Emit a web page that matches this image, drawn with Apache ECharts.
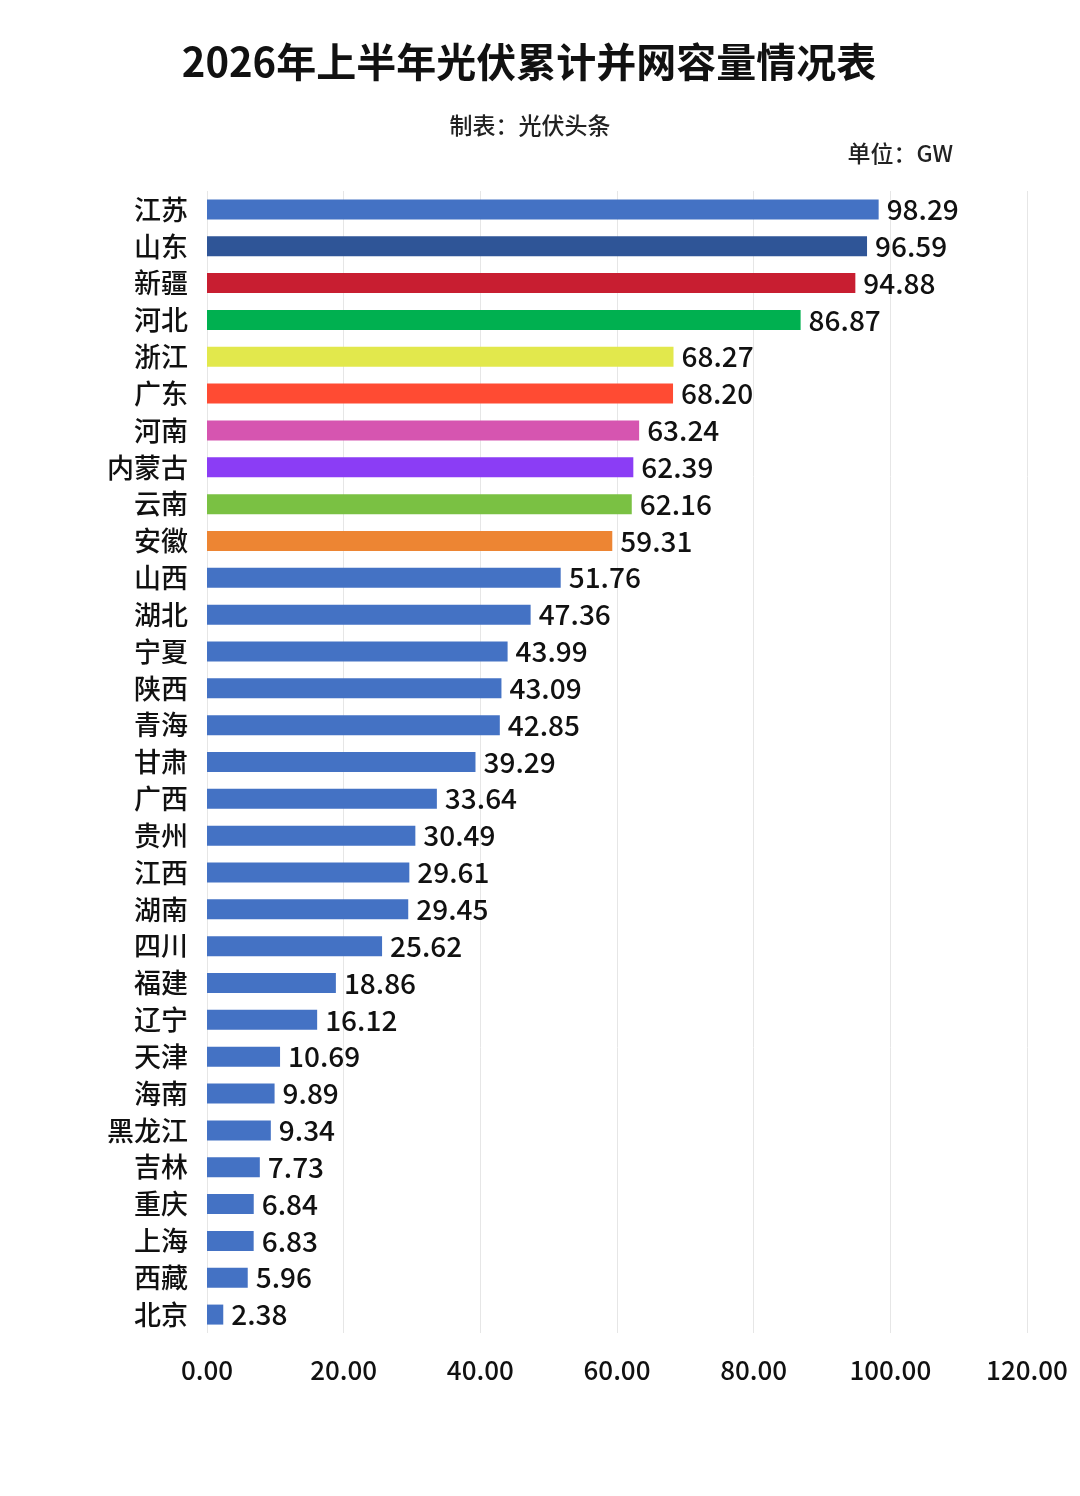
<!DOCTYPE html>
<html>
<head>
<meta charset="utf-8">
<script src="https://cdn.jsdelivr.net/npm/echarts@6/dist/echarts.min.js"></script>
<style>
  html, body { margin: 0; padding: 0; background: #fff; }
  #main { width: 1080px; height: 1496px; }
</style>
</head>
<body>
<div id="main"></div>
<script>
var provinces = ['江苏', '山东', '新疆', '河北', '浙江', '广东', '河南', '内蒙古', '云南', '安徽',
  '山西', '湖北', '宁夏', '陕西', '青海', '甘肃', '广西', '贵州', '江西', '湖南',
  '四川', '福建', '辽宁', '天津', '海南', '黑龙江', '吉林', '重庆', '上海', '西藏', '北京'];
var capacity = [98.29, 96.59, 94.88, 86.87, 68.27, 68.20, 63.24, 62.39, 62.16, 59.31,
  51.76, 47.36, 43.99, 43.09, 42.85, 39.29, 33.64, 30.49, 29.61, 29.45,
  25.62, 18.86, 16.12, 10.69, 9.89, 9.34, 7.73, 6.84, 6.83, 5.96, 2.38];
// 前十名单独配色，其余统一蓝色
var topColors = ['#4472C4', '#2F5597', '#C81E31', '#00B050', '#E2E84C',
  '#FF4B33', '#D655B0', '#8B3DF5', '#7AC143', '#ED8533'];
var baseColor = '#4472C4';

var font = '"Noto Sans CJK SC", "Noto Sans", sans-serif';

var chart = echarts.init(document.getElementById('main'));

var option = {
  backgroundColor: '#fff',
  textStyle: { fontFamily: font },
  title: [{
    text: '2026年上半年光伏累计并网容量情况表',
    left: 524,
    textAlign: 'center',
    top: 37,
    textStyle: { fontSize: 40, fontWeight: 'bold', color: '#111', fontFamily: font }
  }, {
    text: '制表：光伏头条',
    left: 525,
    textAlign: 'center',
    top: 109,
    textStyle: { fontSize: 23, fontWeight: 500, color: '#222', fontFamily: font }
  }, {
    text: '单位：GW',
    right: 122,
    top: 137,
    textStyle: { fontSize: 23, fontWeight: 500, color: '#222', fontFamily: font }
  }],
  grid: {
    left: 207,
    right: 53,
    top: 191,
    bottom: 163,
    containLabel: false
  },
  xAxis: {
    type: 'value',
    min: 0,
    max: 120,
    interval: 20,
    axisLine: { show: false },
    axisTick: { show: false },
    splitLine: { show: true, lineStyle: { color: '#e6e6e6', width: 1 } },
    axisLabel: {
      fontSize: 26,
      fontWeight: 500,
      color: '#111',
      margin: 24,
      formatter: function (v) { return v.toFixed(2); }
    }
  },
  yAxis: {
    type: 'category',
    inverse: true,
    data: provinces,
    axisLine: { show: false },
    axisTick: { show: false },
    axisLabel: { fontSize: 27, fontWeight: 500, color: '#111', margin: 19 }
  },
  series: [{
    type: 'bar',
    barWidth: 20,
    data: capacity.map(function (v, i) {
      return { value: v, itemStyle: { color: i < topColors.length ? topColors[i] : baseColor } };
    }),
    label: {
      show: true,
      position: 'right',
      distance: 8,
      fontSize: 28,
      fontWeight: 500,
      color: '#111',
      formatter: function (p) { return p.value.toFixed(2); }
    }
  }]
};

chart.setOption(option);
</script>
</body>
</html>
